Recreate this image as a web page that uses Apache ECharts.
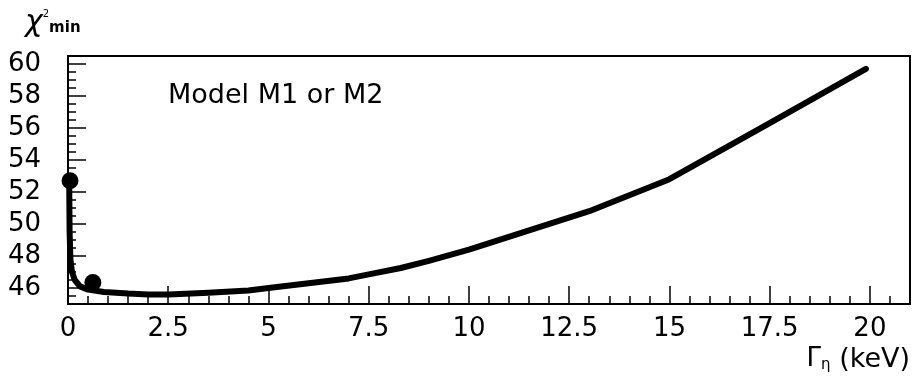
<!DOCTYPE html>
<html>
<head>
<meta charset="utf-8">
<script src="https://cdn.jsdelivr.net/npm/echarts@6/dist/echarts.min.js"></script>
<style>
html,body{margin:0;padding:0;background:#fff;}
#c{width:913px;height:383px;}
</style>
</head>
<body>
<div id="c"></div>
<script>
// Data
var gammaEta = [0.03, 0.04, 0.06, 0.1, 0.17, 0.3, 0.5, 0.9, 1.5, 2.0, 2.5, 3.5, 4.5, 5, 6, 7, 7.5, 8.3, 9, 10, 11.5, 13, 15, 17.5, 19.9];
var chi2min  = [52.7, 49.5, 47.8, 47.0, 46.5, 46.1, 45.9, 45.75, 45.65, 45.6, 45.6, 45.7, 45.85, 46.0, 46.3, 46.6, 46.85, 47.25, 47.7, 48.4, 49.6, 50.8, 52.8, 56.3, 59.7];
var markerX = [0.05, 0.62];
var markerY = [52.7, 46.35];
var xMajorTicks = [0, 2.5, 5, 7.5, 10, 12.5, 15, 17.5, 20];
var yMajorTicks = [46, 48, 50, 52, 54, 56, 58, 60];
var modelLabel = 'Model M1 or M2';

var FONT = 'DejaVu Sans';
var chart = echarts.init(document.getElementById('c'), null, {renderer: 'canvas'});

var lineData = gammaEta.map(function (x, i) { return [x, chi2min[i]]; });
var markerData = markerX.map(function (x, i) { return [x, markerY[i]]; });

function isMajor(v, list) {
  for (var i = 0; i < list.length; i++) { if (Math.abs(list[i] - v) < 1e-6) return true; }
  return false;
}

var option = {
  animation: false,
  backgroundColor: '#fff',
  grid: {
    left: 68, right: 3, top: 56, bottom: 79,
    show: true, borderColor: '#000', borderWidth: 2, backgroundColor: 'transparent'
  },
  xAxis: [
    {
      type: 'value', min: 0, max: 21, interval: 0.5,
      axisLine: {show: true, onZero: false, lineStyle: {color: '#000', width: 2}},
      axisTick: {show: true, inside: true, length: 8, lineStyle: {color: '#000', width: 1.5}},
      splitLine: {show: false},
      axisLabel: {
        show: true, margin: 12, color: '#000', fontFamily: FONT, fontSize: 26,
        showMaxLabel: false,
        formatter: function (v) { return isMajor(v, xMajorTicks) ? String(v) : ''; }
      }
    },
    {
      type: 'value', min: 0, max: 21, position: 'bottom',
      axisLine: {show: false},
      axisTick: {show: true, inside: true, length: 18, customValues: xMajorTicks, lineStyle: {color: '#000', width: 1.5}},
      axisLabel: {show: false},
      splitLine: {show: false}
    }
  ],
  yAxis: [
    {
      type: 'value', min: 45, max: 60.5, interval: 0.5,
      axisLine: {show: true, onZero: false, lineStyle: {color: '#000', width: 2}},
      axisTick: {show: true, inside: true, length: 8, lineStyle: {color: '#000', width: 1.5}},
      splitLine: {show: false},
      axisLabel: {
        show: true, margin: 27, color: '#000', fontFamily: FONT, fontSize: 26,
        formatter: function (v) { return isMajor(v, yMajorTicks) ? String(v) : ''; }
      }
    },
    {
      type: 'value', min: 45, max: 60.5, position: 'left',
      axisLine: {show: false},
      axisTick: {show: true, inside: true, length: 18, customValues: yMajorTicks, lineStyle: {color: '#000', width: 1.5}},
      axisLabel: {show: false},
      splitLine: {show: false}
    }
  ],
  series: [
    {
      type: 'line', xAxisIndex: 0, yAxisIndex: 0,
      data: lineData, showSymbol: false, smooth: false,
      lineStyle: {color: '#000', width: 6, cap: 'round', join: 'round'},
      z: 3
    },
    {
      type: 'scatter', xAxisIndex: 0, yAxisIndex: 0,
      data: markerData, symbol: 'circle', symbolSize: 17,
      itemStyle: {color: '#000', opacity: 1},
      z: 4
    }
  ],
  graphic: [
    {
      type: 'text', left: 168, top: 82,
      style: {text: modelLabel, fontFamily: FONT, fontSize: 27, fill: '#000'}
    },
    {
      type: 'text', left: 25, top: 8,
      style: {
        text: '{a|χ}{s|2}{m|min}',
        rich: {
          a: {fontFamily: FONT, fontSize: 30, fill: '#000', fontStyle: 'italic'},
          s: {fontFamily: FONT, fontSize: 10, fill: '#000', padding: [0, 0, 18, 0]},
          m: {fontFamily: FONT, fontSize: 15, fontWeight: 'bold', fill: '#000', padding: [10, 0, 0, 0]}
        }
      }
    },
    {
      type: 'text', right: 3, top: 346,
      style: {
        text: '{g|Γ}{e|η}{k| (keV)}',
        rich: {
          g: {fontFamily: FONT, fontSize: 26, fill: '#000'},
          e: {fontFamily: FONT, fontSize: 15, fill: '#000', padding: [12, 0, 0, 0]},
          k: {fontFamily: FONT, fontSize: 27, fill: '#000'}
        }
      }
    }
  ]
};
chart.setOption(option);
</script>
</body>
</html>
